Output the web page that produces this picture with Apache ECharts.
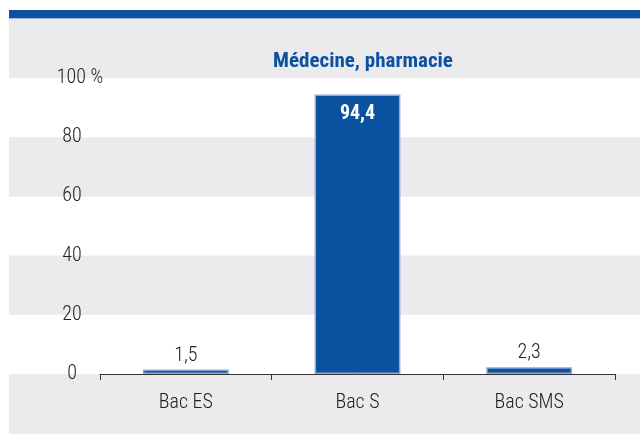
<!DOCTYPE html>
<html>
<head>
<meta charset="utf-8">
<script src="https://cdn.jsdelivr.net/npm/echarts@6/dist/echarts.min.js"></script>
<style>
  html, body { margin: 0; padding: 0; background: #ffffff; }
  #chart { width: 640px; height: 434px; }
</style>
</head>
<body>
<div id="chart"></div>
<script>
  const categories = ['Bac ES', 'Bac S', 'Bac SMS']
  const values = [1.5, 94.4, 2.3]
  const yTicks = [0, 20, 40, 60, 80, 100]

  // Roboto with font-stretch condensed gives a narrow face close to the original
  const font = 'Roboto, "DejaVu Sans Condensed", sans-serif'
  const cond = 'condensed'
  const blue = '#0A52A0'
  const panel = '#EBEBEE'
  const ink = '#222222'

  const fmt = v => String(v).replace('.', ',')

  const myChart = echarts.init(document.getElementById('chart'))
  myChart.setOption({
    animation: false,
    backgroundColor: '#ffffff',
    graphic: [
      { type: 'rect', z: -10, shape: { x: 9, y: 18, width: 631, height: 416 }, style: { fill: panel } },
      { type: 'rect', z: -9, shape: { x: 9, y: 10, width: 631, height: 8 }, style: { fill: blue } },
      { type: 'rect', z: -9, shape: { x: 9, y: 18, width: 631, height: 1 }, style: { fill: '#9DB6DA' } }
    ],
    title: {
      text: 'Médecine, pharmacie',
      left: 358,
      textAlign: 'center',
      top: 46,
      textStyle: { color: blue, fontFamily: font, fontStyle: cond, fontWeight: 'bold', fontSize: 21 }
    },
    grid: [
      { left: 100, right: 25, top: 78, bottom: 60, containLabel: false },
      { left: 9, right: 0, top: 78, bottom: 60, containLabel: false, z: 0 }
    ],
    xAxis: [
      {
        type: 'category',
        gridIndex: 0,
        data: categories,
        axisLine: { lineStyle: { color: '#333', width: 1 } },
        axisTick: { show: true, length: 6, lineStyle: { color: '#333' } },
        axisLabel: { color: ink, fontFamily: font, fontStyle: cond, fontWeight: 300, fontSize: 20, margin: 19 }
      },
      { type: 'value', gridIndex: 1, show: false, min: 0, max: 1 }
    ],
    yAxis: [
      {
        type: 'value',
        gridIndex: 0,
        min: yTicks[0],
        max: yTicks[yTicks.length - 1],
        interval: 20,
        axisLine: { show: false },
        axisTick: { show: false },
        splitLine: { show: false },
        axisLabel: {
          color: ink,
          fontFamily: font,
          fontStyle: cond,
          fontWeight: 300,
          fontSize: 20,
          align: 'center',
          margin: 28,
          formatter: v => v === 100 ? '{p|100 %}' : String(v),
          rich: { p: { fontFamily: font, fontStyle: cond, fontWeight: 300, fontSize: 20, color: ink, padding: [0, 0, 0, 16] } }
        }
      },
      {
        type: 'value',
        gridIndex: 1,
        min: 0,
        max: 100,
        interval: 20,
        axisLine: { show: false },
        axisTick: { show: false },
        axisLabel: { show: false },
        splitLine: { show: false },
        splitArea: { show: true, areaStyle: { color: ['#ffffff', panel] } }
      }
    ],
    series: [
      {
        type: 'bar',
        xAxisIndex: 0,
        yAxisIndex: 0,
        barWidth: '50%',
        data: values.map(v => ({
          value: v,
          label: v > 50
            ? { show: true, position: 'insideTop', distance: 9, color: '#ffffff', fontWeight: 'bold', fontStyle: cond, fontFamily: font, fontSize: 20, formatter: p => fmt(p.value) }
            : { show: true, position: 'top', distance: 4, color: ink, fontStyle: cond, fontWeight: 300, fontFamily: font, fontSize: 20, formatter: p => fmt(p.value) }
        })),
        itemStyle: { color: blue, borderColor: '#8FA9D6', borderWidth: 1.5 },
        z: 5
      }
    ]
  })
</script>
</body>
</html>
